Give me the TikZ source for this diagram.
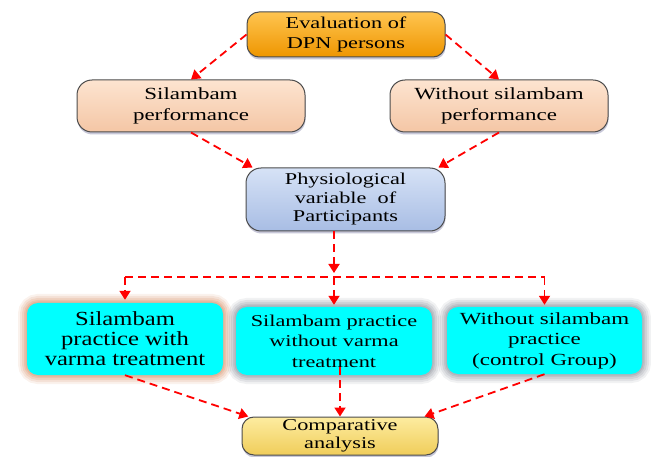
\documentclass[tikz,border=0pt]{standalone}
\usepackage{fontspec}
\setmainfont{Liberation Serif}
\newfontfamily\wide[FakeStretch=1.35]{Liberation Serif}
\newfontfamily\widee[FakeStretch=1.23]{Liberation Serif}
\usetikzlibrary{arrows.meta,shadows,calc}
\definecolor{orgT}{RGB}{255,196,80}
\definecolor{orgB}{RGB}{238,150,0}
\definecolor{peachT}{RGB}{253,228,208}
\definecolor{peachB}{RGB}{244,198,165}
\definecolor{blueT}{RGB}{214,226,246}
\definecolor{blueB}{RGB}{168,189,228}
\definecolor{yelT}{RGB}{253,236,160}
\definecolor{yelB}{RGB}{240,205,90}
\definecolor{cyanF}{RGB}{0,255,255}
\definecolor{haloP}{RGB}{215,145,105}
\definecolor{haloG}{RGB}{140,145,155}
\definecolor{arrred}{RGB}{255,0,0}
\begin{document}
\begin{tikzpicture}[x=1pt,y=-1pt,
  box/.style={rectangle, rounded corners=13pt, draw=black!70, line width=1pt,
    align=center, inner sep=0pt, font=\wide\fontsize{16.5}{20}\selectfont,
    drop shadow={shadow xshift=0.5pt, shadow yshift=-2.5pt, opacity=0.22, fill=black!70!blue}},
  cbox/.style={rectangle, rounded corners=11pt, fill=cyanF, align=center, inner sep=0pt,
    font=\wide\fontsize{16.5}{20.5}\selectfont},
  glow/.style={
    preaction={draw=#1, draw opacity=0.12, line width=18pt},
    preaction={draw=#1, draw opacity=0.16, line width=14pt},
    preaction={draw=#1, draw opacity=0.20, line width=10pt},
    preaction={draw=#1, draw opacity=0.24, line width=6pt},
    preaction={draw=#1, draw opacity=0.28, line width=3pt}},
  arr/.style={draw=arrred, line width=1.8pt, dash pattern=on 8pt off 5pt,
    -{Triangle[length=9pt,width=11pt]}},
  dl/.style={draw=arrred, line width=1.8pt, dash pattern=on 8pt off 5pt}
]
\useasboundingbox (0,0) rectangle (651,457);

\node[box, rounded corners=12pt, top color=orgT, bottom color=orgB, minimum width=198pt, minimum height=45pt]
  (eval) at (346,34.5) {Evaluation of\\DPN persons};
\node[box, rounded corners=15pt, top color=peachT, bottom color=peachB, minimum width=228pt, minimum height=52pt,
  font=\wide\fontsize{17}{21}\selectfont]
  (sp) at (191,106) {Silambam\\performance};
\node[box, rounded corners=15pt, top color=peachT, bottom color=peachB, minimum width=218pt, minimum height=52pt,
  font=\wide\fontsize{17}{21}\selectfont]
  (wsp) at (499,106) {Without silambam\\performance};
\node[box, rounded corners=15pt, top color=blueT, bottom color=blueB, minimum width=199pt, minimum height=63pt,
  font=\wide\fontsize{16.5}{18.5}\selectfont]
  (phys) at (345.5,199.5) {Physiological\\variable \ of\\Participants};

\node[cbox, glow=haloP, minimum width=196pt, minimum height=72pt,
  font=\widee\fontsize{20}{20}\selectfont]
  (c1) at (125,339) {Silambam\\practice with\\varma treatment};
\node[cbox, glow=haloG, minimum width=196pt, minimum height=68pt]
  (c2) at (334,341) {Silambam practice\\without varma\\treatment};
\node[cbox, glow=haloG, minimum width=195pt, minimum height=67pt,
  font=\wide\fontsize{17}{20.5}\selectfont]
  (c3) at (544.5,340.5) {Without silambam\\practice\\(control Group)};

\node[box, rounded corners=12pt, top color=yelT, bottom color=yelB, minimum width=196pt, minimum height=38pt,
  font=\wide\fontsize{16.5}{18}\selectfont]
  (comp) at (340,436) {Comparative\\analysis};

\coordinate (j) at (334,277);

\draw[arr] (eval.west) -- (sp.north);
\draw[arr] (eval.east) -- (wsp.north);
\draw[arr] (sp.south) -- (phys.161);
\draw[arr] (wsp.south) -- (phys.19);
\draw[arr] ($(phys.south)+(-11.5,0)$) -- ($(j)+(0,-4)$);
\draw[dl] (j -| c1.north) -- (j -| c3.north);
\draw[arr] (j -| c1.north) -- ($(c1.north)+(0,-3)$);
\draw[arr] (j) -- ($(c2.north)+(0,-2)$);
\draw[arr] (j -| c3.north) -- ($(c3.north)+(0,-2)$);
\draw[arr] (c1.south) -- (comp.168);
\draw[arr] ($(c2.south -| comp.north)+(0,-8)$) -- (comp.north);
\draw[arr] (c3.south) -- (comp.13);
\end{tikzpicture}
\end{document}
